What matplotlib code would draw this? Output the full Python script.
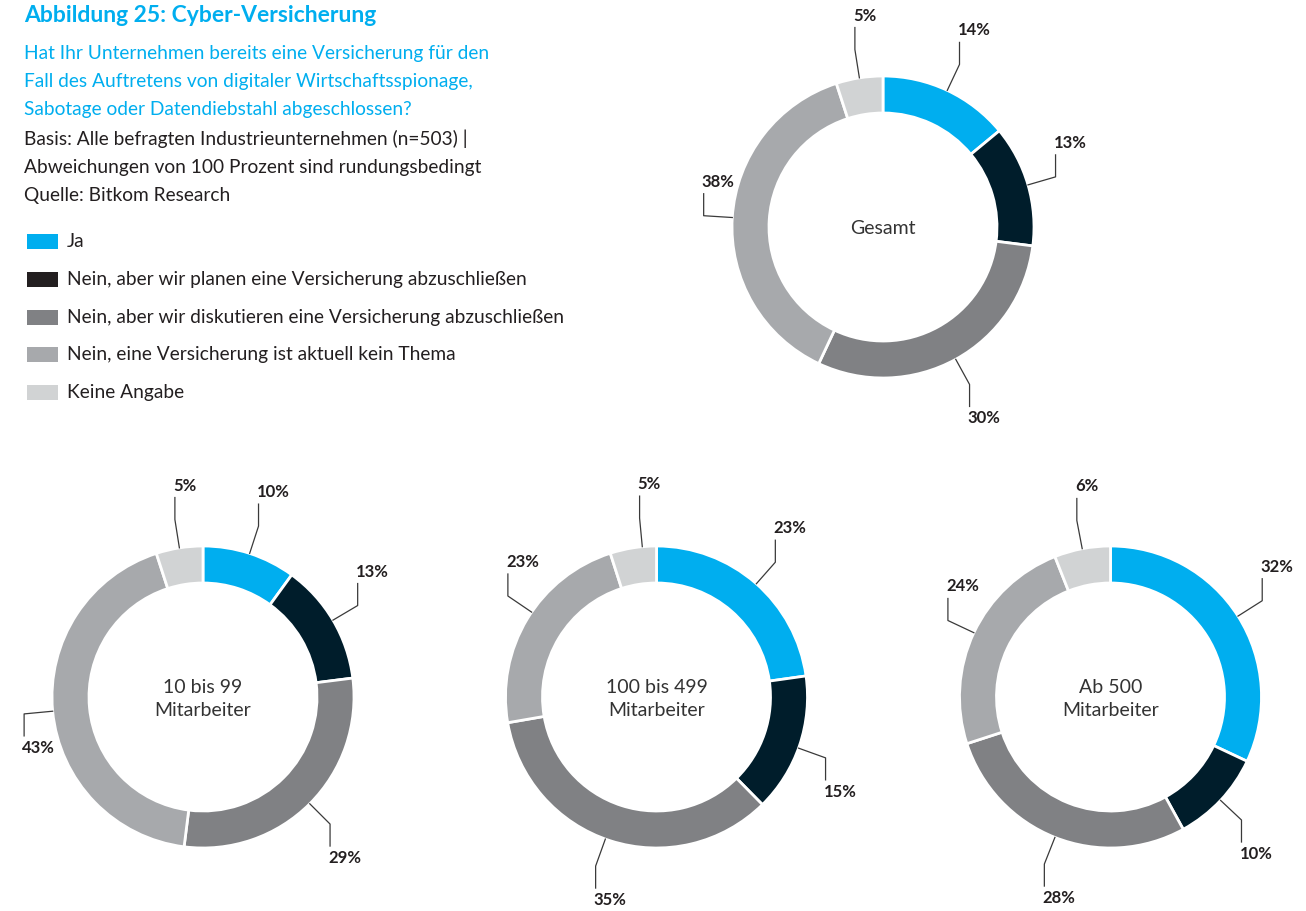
import numpy as np
import matplotlib
matplotlib.use('Agg')
import matplotlib.pyplot as plt

plt.rcParams['font.family'] = ['Lato', 'DejaVu Sans']

W, H = 1306, 911

categories = [
    'Ja',
    'Nein, aber wir planen eine Versicherung abzuschließen',
    'Nein, aber wir diskutieren eine Versicherung abzuschließen',
    'Nein, eine Versicherung ist aktuell kein Thema',
    'Keine Angabe',
]
groups = ['Gesamt', '10 bis 99\nMitarbeiter', '100 bis 499\nMitarbeiter', 'Ab 500\nMitarbeiter']
gesamt = [14, 13, 30, 38, 5]
bis_99 = [10, 13, 29, 43, 5]
bis_499 = [23, 15, 35, 23, 5]
ab_500 = [32, 10, 28, 24, 6]

ring_colors = ['#00AEEF', '#001D2B', '#808184', '#A7A9AC', '#D1D3D4']
legend_colors = ['#00AEEF', '#231F20', '#808184', '#A7A9AC', '#D1D3D4']
cyan = '#00AEEF'
txt = '#231F20'

fig = plt.figure(figsize=(W / 100, H / 100), dpi=100)


def fx(x):
    return x / W


def fy(y):
    return 1 - y / H


# header texts
fig.text(fx(24), fy(15), 'Abbildung 25: Cyber-Versicherung', color=cyan,
         fontsize=16.5, fontweight='bold', va='center', ha='left')
sub = ['Hat Ihr Unternehmen bereits eine Versicherung für den',
       'Fall des Auftretens von digitaler Wirtschaftsspionage,',
       'Sabotage oder Datendiebstahl abgeschlossen?']
for i, s in enumerate(sub):
    fig.text(fx(24), fy(53 + i * 28.5), s, color=cyan, fontsize=13.8, va='center')
notes = ['Basis: Alle befragten Industrieunternehmen (n=503) |',
         'Abweichungen von 100 Prozent sind rundungsbedingt',
         'Quelle: Bitkom Research']
for i, s in enumerate(notes):
    fig.text(fx(24), fy(139 + i * 28), s, color=txt, fontsize=13.8, va='center')

# legend
lax = fig.add_axes([0, 0, 1, 1])
lax.set_xlim(0, W)
lax.set_ylim(H, 0)
lax.axis('off')
for i, (c, col) in enumerate(zip(categories, legend_colors)):
    y = 241.5 + i * 37.75
    lax.add_patch(plt.Rectangle((27, y - 7.5), 31, 15, color=col, lw=0))
    lax.text(67, y, c, color=txt, fontsize=13.8, va='center', ha='left')


def donut(cx, cy, values, label, half=240):
    ax = fig.add_axes([fx(cx - half), fy(cy + half), 2 * half / W, 2 * half / H])
    R, w = 151, 37
    ax.pie(values, colors=ring_colors, startangle=90, counterclock=False,
           radius=R, wedgeprops=dict(width=w, edgecolor='white', linewidth=2))
    ax.set_xlim(-half, half)
    ax.set_ylim(-half, half)
    ax.set_aspect('equal')
    ax.axis('off')
    ax.text(0, -2, label, ha='center', va='center', fontsize=14, color='#333333',
            linespacing=1.45)
    cum = np.cumsum([0] + values)
    for i, v in enumerate(values):
        mid = np.deg2rad(90 - (cum[i] + v / 2) * 3.6)
        x0, y0 = R * np.cos(mid), R * np.sin(mid)
        x1, y1 = 1.19 * R * np.cos(mid), 1.19 * R * np.sin(mid)
        d = 1 if np.sin(mid) > 0 else -1
        y2 = y1 + d * 22
        ax.plot([x0, x1, x1], [y0, y1, y2], color='#3a3a3a', lw=0.9, clip_on=False)
        ax.text(x1 - 2, y2 + d * 4, f'{v}%', ha='left',
                va='bottom' if d > 0 else 'top', fontsize=12, fontweight='bold',
                color=txt)


donut(883, 227, gesamt, groups[0])
donut(203, 697, bis_99, groups[1])
donut(656.5, 697, bis_499, groups[2])
donut(1110.5, 697, ab_500, groups[3])

fig.savefig('out.png', dpi=100)
